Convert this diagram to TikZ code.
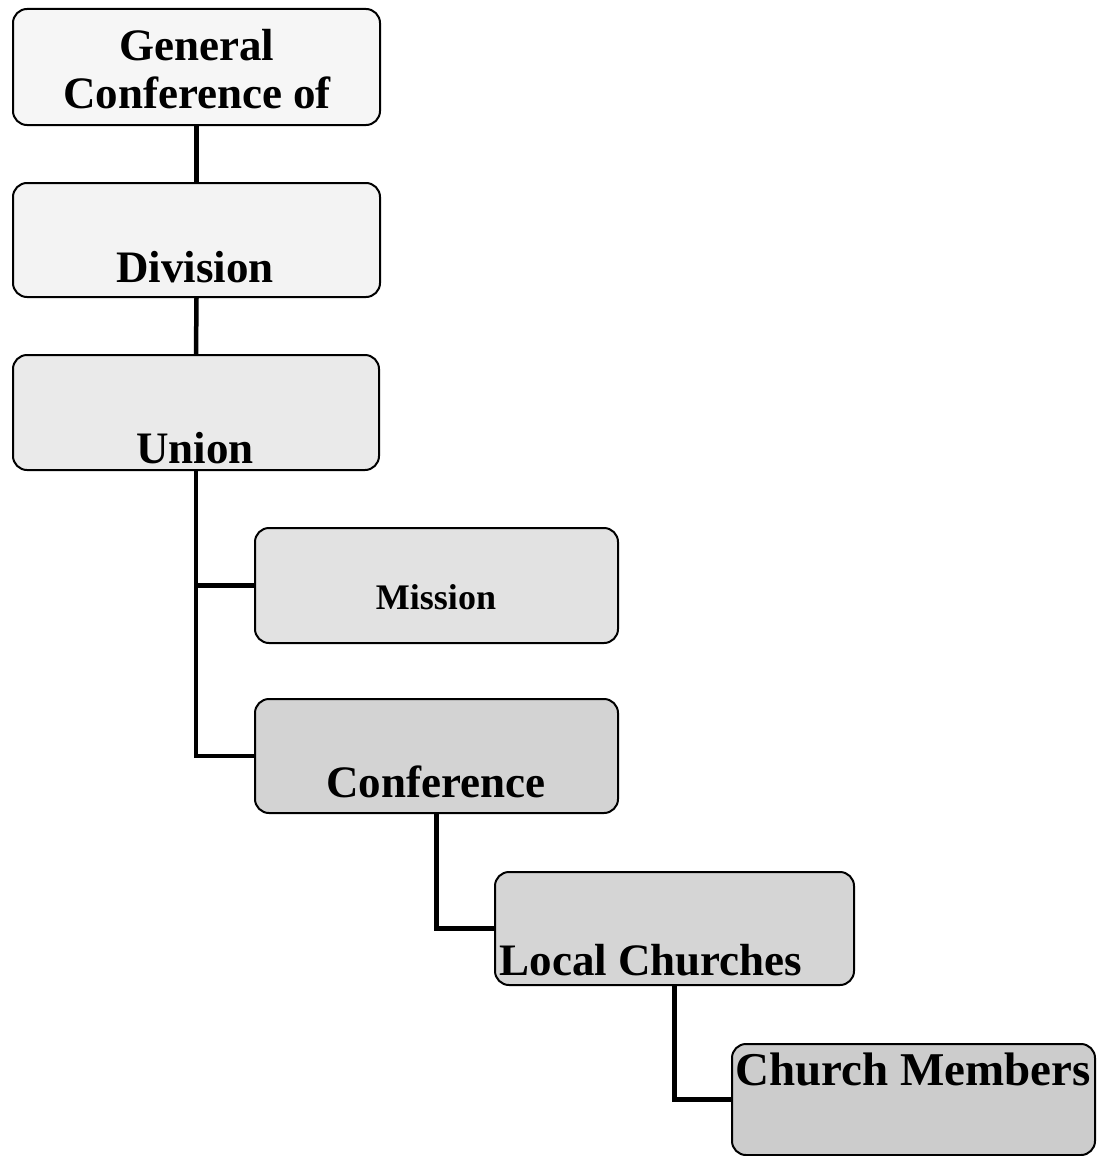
\documentclass[tikz,border=0pt]{standalone}
\usepackage{fontspec}
\setmainfont{Liberation Serif}
\definecolor{fa}{HTML}{F6F6F6}
\definecolor{fb}{HTML}{F3F3F3}
\definecolor{fc}{HTML}{EAEAEA}
\definecolor{fd}{HTML}{E2E2E2}
\definecolor{fe}{HTML}{D3D3D3}
\definecolor{ff}{HTML}{D5D5D5}
\definecolor{fg}{HTML}{CCCCCC}
\tikzset{
  orgbox/.style={draw=black, line width=2pt, rounded corners=14pt, rectangle,
    inner sep=0pt, anchor=north west},
  lbl/.style={inner sep=0pt, anchor=base, font=\fontsize{45}{50}\selectfont\bfseries},
  link/.style={line width=4.5pt, black}
}
\begin{document}
\begin{tikzpicture}[x=1pt, y=-1pt]
\useasboundingbox (0,0) rectangle (1098,1156);
% boxes
\node[orgbox, fill=fa, minimum width=367pt, minimum height=116pt] (gc) at (12,8) {};
\node[orgbox, fill=fb, minimum width=367pt, minimum height=114pt] (div) at (12,182) {};
\node[orgbox, fill=fc, minimum width=366pt, minimum height=115pt] (union) at (12,354) {};
\node[orgbox, fill=fd, minimum width=363pt, minimum height=115pt] (mission) at (254,527) {};
\node[orgbox, fill=fe, minimum width=363pt, minimum height=114pt] (conf) at (254,698) {};
\node[orgbox, fill=ff, minimum width=359pt, minimum height=113pt] (local) at (494,871) {};
\node[orgbox, fill=fg, minimum width=363pt, minimum height=111pt] (church) at (731,1043) {};
% connectors
\draw[link] (gc.south) -- (div.north);
\draw[link] (div.south) -- (union.north);
\draw[link] (union.south) |- (mission.west);
\draw[link] (union.south) |- (conf.west);
\draw[link] (conf.south) |- (local.west);
\draw[link] (local.south) |- (church.west);
% labels
\node[lbl] (t1a) at (197,60) {General};
\node[lbl] (t1b) at (197,108) {Conference of};
\node[lbl] (t2) at (195,282) {Division};
\node[lbl] (t3) at (195,463) {Union};
\node[lbl, font=\fontsize{36}{40}\selectfont\bfseries] (t4) at (436,609) {Mission};
\node[lbl] (t5) at (436,797) {Conference};
\node[lbl] (t6) at (651,975) {Local Churches};
\node[lbl, font=\fontsize{47}{52}\selectfont\bfseries] (t7) at (913,1085) {Church Members};
\end{tikzpicture}
\end{document}
